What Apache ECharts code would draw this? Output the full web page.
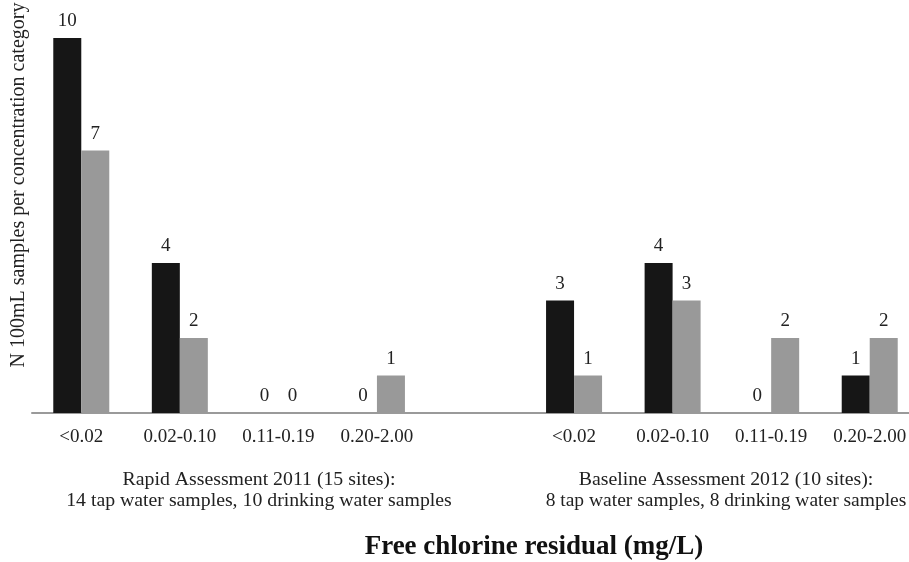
<!DOCTYPE html>
<html><head><meta charset="utf-8">
<script src="https://cdn.jsdelivr.net/npm/echarts@6/dist/echarts.min.js"></script>
<style>html,body{margin:0;padding:0;background:#fff}#c{width:909px;height:562px}</style>
</head><body><div id="c"></div>
<script>
const categories = ['<0.02','0.02-0.10','0.11-0.19','0.20-2.00','','<0.02','0.02-0.10','0.11-0.19','0.20-2.00'];
const tapWater = [10, 4, 0, 0, null, 3, 4, 0, 1];
const drinkingWater = [7, 2, 0, 1, null, 1, 3, 2, 2];
const groupLabels = [
  ['Rapid Assessment 2011 (15 sites):', '14 tap water samples, 10 drinking water samples'],
  ['Baseline Assessment 2012 (10 sites):', '8 tap water samples, 8 drinking water samples']
];
const yName = 'N 100mL samples per concentration category';
const xName = 'Free chlorine residual (mg/L)';

const font = '"Liberation Serif", "Times New Roman", serif';
const chart = echarts.init(document.getElementById('c'));
const lbl = {show: true, position: 'top', distance: 7, color: '#222', fontFamily: font, fontSize: 19,
  formatter: p => (p.value === null || p.value === undefined) ? '' : String(p.value)};
chart.setOption({
  animation: false,
  grid: {left: 32, top: 38, width: 887, height: 375, outerBoundsMode: 'none', containLabel: false},
  xAxis: {
    type: 'category', data: categories, boundaryGap: true,
    axisLine: {lineStyle: {color: '#9a9a9a', width: 2}},
    axisTick: {show: false},
    axisLabel: {color: '#222', fontFamily: font, fontSize: 19, margin: 15, interval: 0}
  },
  yAxis: {
    type: 'value', min: 0, max: 10, interval: 2,
    axisLine: {show: false}, axisTick: {show: false}, axisLabel: {show: false},
    splitLine: {show: false}
  },
  series: [
    {type: 'bar', data: tapWater, barWidth: 28, barGap: '0%', itemStyle: {color: '#161616'}, label: lbl},
    {type: 'bar', data: drinkingWater, barWidth: 28, barGap: '0%', itemStyle: {color: '#999999'}, label: lbl}
  ],
  graphic: [
    {type: 'text', x: 19, y: 185, rotation: Math.PI / 2,
      style: {text: yName, font: '20px ' + font, fill: '#222', align: 'center', verticalAlign: 'middle'}},
    {type: 'text', x: 259, y: 480, style: {text: groupLabels[0][0], font: '19.8px ' + font, fill: '#222', align: 'center', verticalAlign: 'middle'}},
    {type: 'text', x: 259, y: 501, style: {text: groupLabels[0][1], font: '19.8px ' + font, fill: '#222', align: 'center', verticalAlign: 'middle'}},
    {type: 'text', x: 726, y: 480, style: {text: groupLabels[1][0], font: '19.8px ' + font, fill: '#222', align: 'center', verticalAlign: 'middle'}},
    {type: 'text', x: 726, y: 501, style: {text: groupLabels[1][1], font: '19.5px ' + font, fill: '#222', align: 'center', verticalAlign: 'middle'}},
    {type: 'text', x: 534, y: 547, style: {text: xName, font: 'bold 27px ' + font, fill: '#111', align: 'center', verticalAlign: 'middle'}}
  ]
});
</script></body></html>
